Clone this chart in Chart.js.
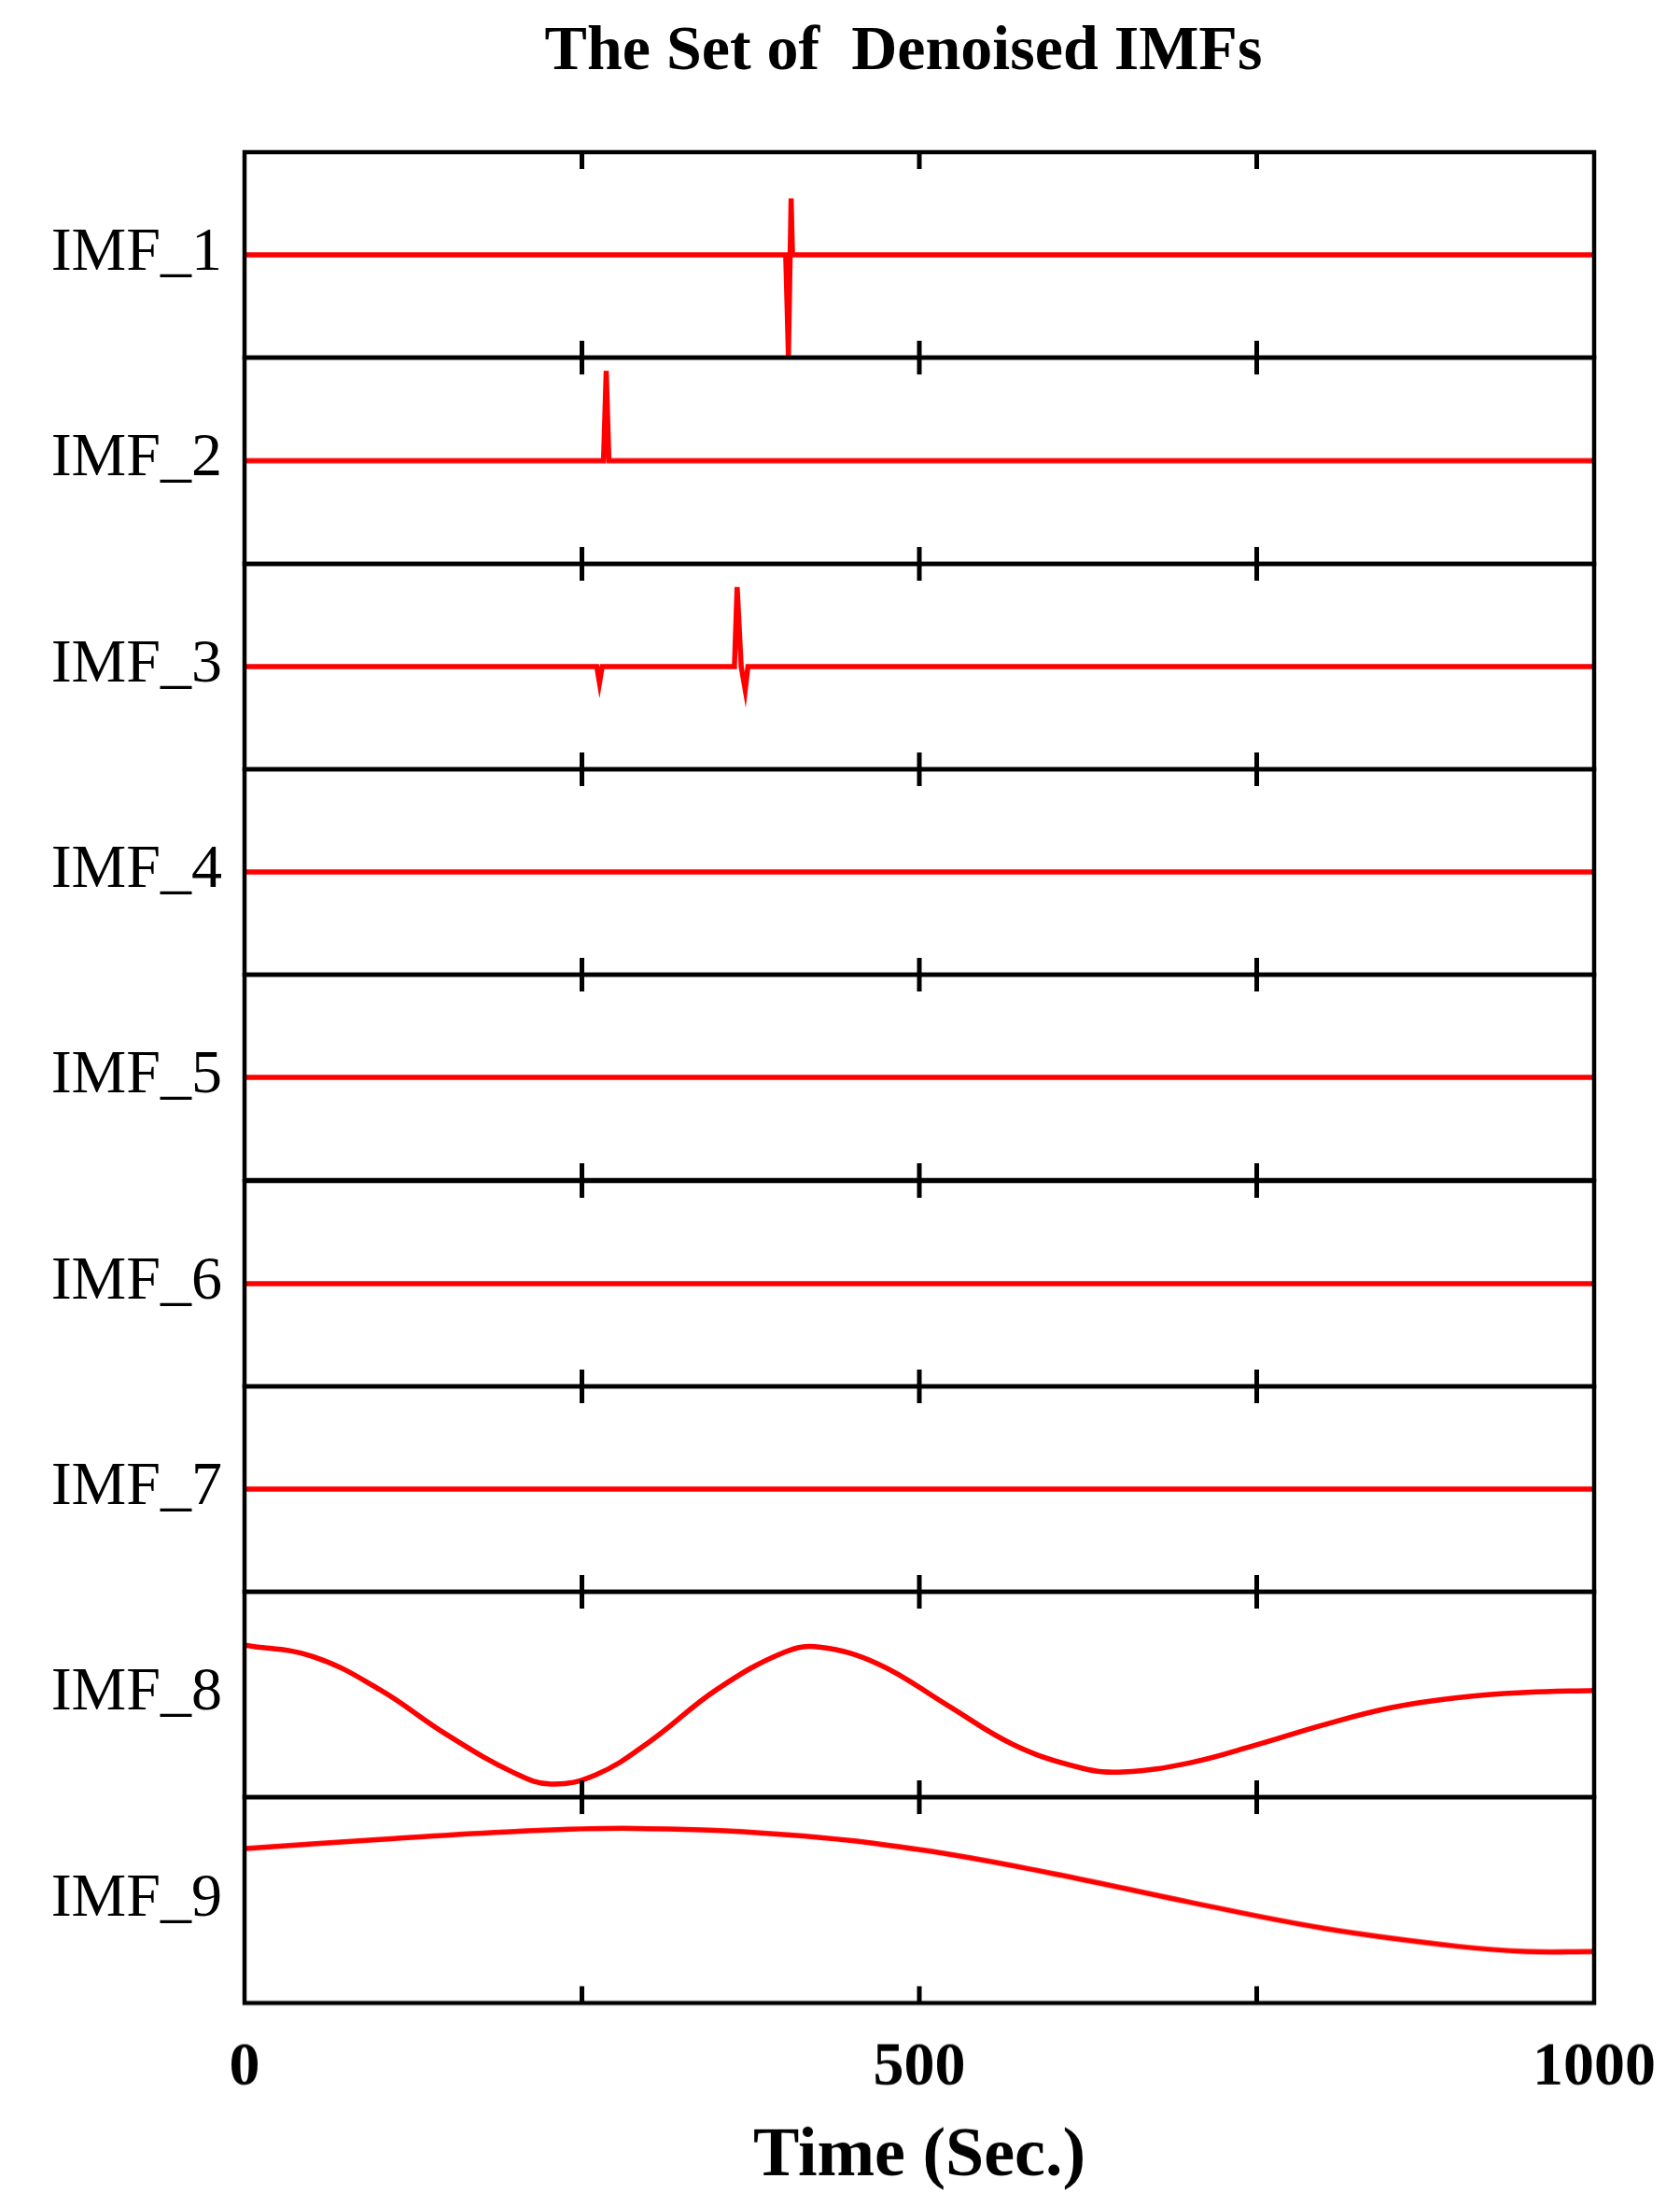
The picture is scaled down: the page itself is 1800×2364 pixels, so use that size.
<!DOCTYPE html>
<html>
<head>
<meta charset="UTF-8">
<style>
  body { margin:0; background:#fff; width:1800px; height:2364px; position:relative; font-family:"Liberation Serif", serif; overflow:hidden; }
  #title { position:absolute; left:0; width:1936px; top:12px; text-align:center; font-weight:bold; font-size:68px; }
  .lbl { position:absolute; left:0; width:238px; text-align:right; font-size:66px; }
  canvas { position:absolute; }
</style>
</head>
<body>
<div id="title">The Set of&nbsp; Denoised IMFs</div>
<script src="https://cdn.jsdelivr.net/npm/chart.js"></script>
<script>
// names of the components
const names = ['IMF_1','IMF_2','IMF_3','IMF_4','IMF_5','IMF_6','IMF_7','IMF_8','IMF_9'];
const xTicks = [0, 500, 1000];
const xMinor = [250, 500, 750];

// each series as [time, value]; value range of every panel is -1..1
const imf1 = [[0,0],[401,0],[403,-1],[405,0.56],[406,0],[1000,0]];
const imf2 = [[0,0],[266,0],[268,0.89],[270,0],[1000,0]];
const imf3 = [[0,0],[261,0],[263,-0.16],[265,0],[363,0],[365,0.79],[368,0],[371,-0.23],[373,0],[1000,0]];
const imf4 = [[0,0],[1000,0]];
const imf5 = [[0,0],[1000,0]];
const imf6 = [[0,0],[1000,0]];
const imf7 = [[0,0],[1000,0]];
const imf8 = [[0,0.49],[50,0.38],[100,0.05],[150,-0.4],[200,-0.78],[227,-0.89],[260,-0.8],[300,-0.47],[350,0.05],[400,0.42],[426,0.47],[470,0.3],[520,-0.1],[570,-0.5],[620,-0.73],[651,-0.77],[700,-0.68],[750,-0.5],[800,-0.3],[850,-0.13],[900,-0.03],[950,0.02],[1000,0.04]];
const imf9 = [[0,0.51],[100,0.6],[200,0.68],[290,0.71],[400,0.65],[500,0.5],[600,0.26],[700,-0.02],[800,-0.28],[900,-0.46],[950,-0.51],[1000,-0.51]];
const series = [imf1,imf2,imf3,imf4,imf5,imf6,imf7,imf8,imf9];

const LEFT = 262, WIDTH = 1446, TOP = 163, PH = 220.3;
const PADX = 130, PADB = 230, E = 4;

const frame = {
  id: 'frame',
  afterDraw(chart, args, opts) {
    const {ctx, chartArea: a, scales: {x}} = chart;
    ctx.save();
    ctx.strokeStyle = '#000';
    ctx.lineWidth = 4.5;
    ctx.strokeRect(a.left, a.top, a.right - a.left, a.bottom - a.top);
    ctx.lineWidth = 5;
    xMinor.forEach(v => {
      const px = x.getPixelForValue(v);
      ctx.beginPath();
      ctx.moveTo(px, a.top); ctx.lineTo(px, a.top + 18);
      ctx.moveTo(px, a.bottom); ctx.lineTo(px, a.bottom - 18);
      ctx.stroke();
    });
    if (opts.last) {
      ctx.fillStyle = '#000';
      ctx.textAlign = 'center';
      ctx.textBaseline = 'middle';
      ctx.font = 'bold 66px "Liberation Serif"';
      xTicks.forEach(v => ctx.fillText(String(v), x.getPixelForValue(v), a.bottom + 70));
      ctx.font = 'bold 74px "Liberation Serif"';
      ctx.fillText('Time (Sec.)', (a.left + a.right) / 2, a.bottom + 165);
    }
    ctx.restore();
  }
};

series.forEach((s, i) => {
  const last = i === series.length - 1;
  const px = last ? PADX : E;
  const c = document.createElement('canvas');
  const w = WIDTH + 2 * px;
  const h = PH + E + (last ? PADB : E);
  c.width = w; c.height = h;
  c.style.left = (LEFT - px) + 'px';
  c.style.top = (TOP + i * PH - E) + 'px';
  c.style.width = w + 'px'; c.style.height = h + 'px';
  document.body.appendChild(c);

  const lab = document.createElement('div');
  lab.className = 'lbl';
  lab.textContent = names[i];
  lab.style.top = (TOP + i * PH + PH / 2 - 44) + 'px';
  document.body.appendChild(lab);

  new Chart(c, {
    type: 'line',
    data: { datasets: [{
      data: s.map(p => ({x: p[0], y: p[1]})),
      borderColor: '#ff0000', borderWidth: 5.5, pointRadius: 0,
      tension: i >= 7 ? 0.4 : 0, fill: false
    }]},
    options: {
      responsive: false, animation: false,
      layout: { padding: {left: px, right: px, top: E, bottom: last ? PADB : E} },
      plugins: { legend: {display: false}, tooltip: {enabled: false}, frame: {last} },
      scales: {
        x: { type: 'linear', min: 0, max: 1000, display: false },
        y: { min: -1.02, max: 1.02, display: false }
      }
    },
    plugins: [frame]
  });
});
</script>
</body>
</html>
